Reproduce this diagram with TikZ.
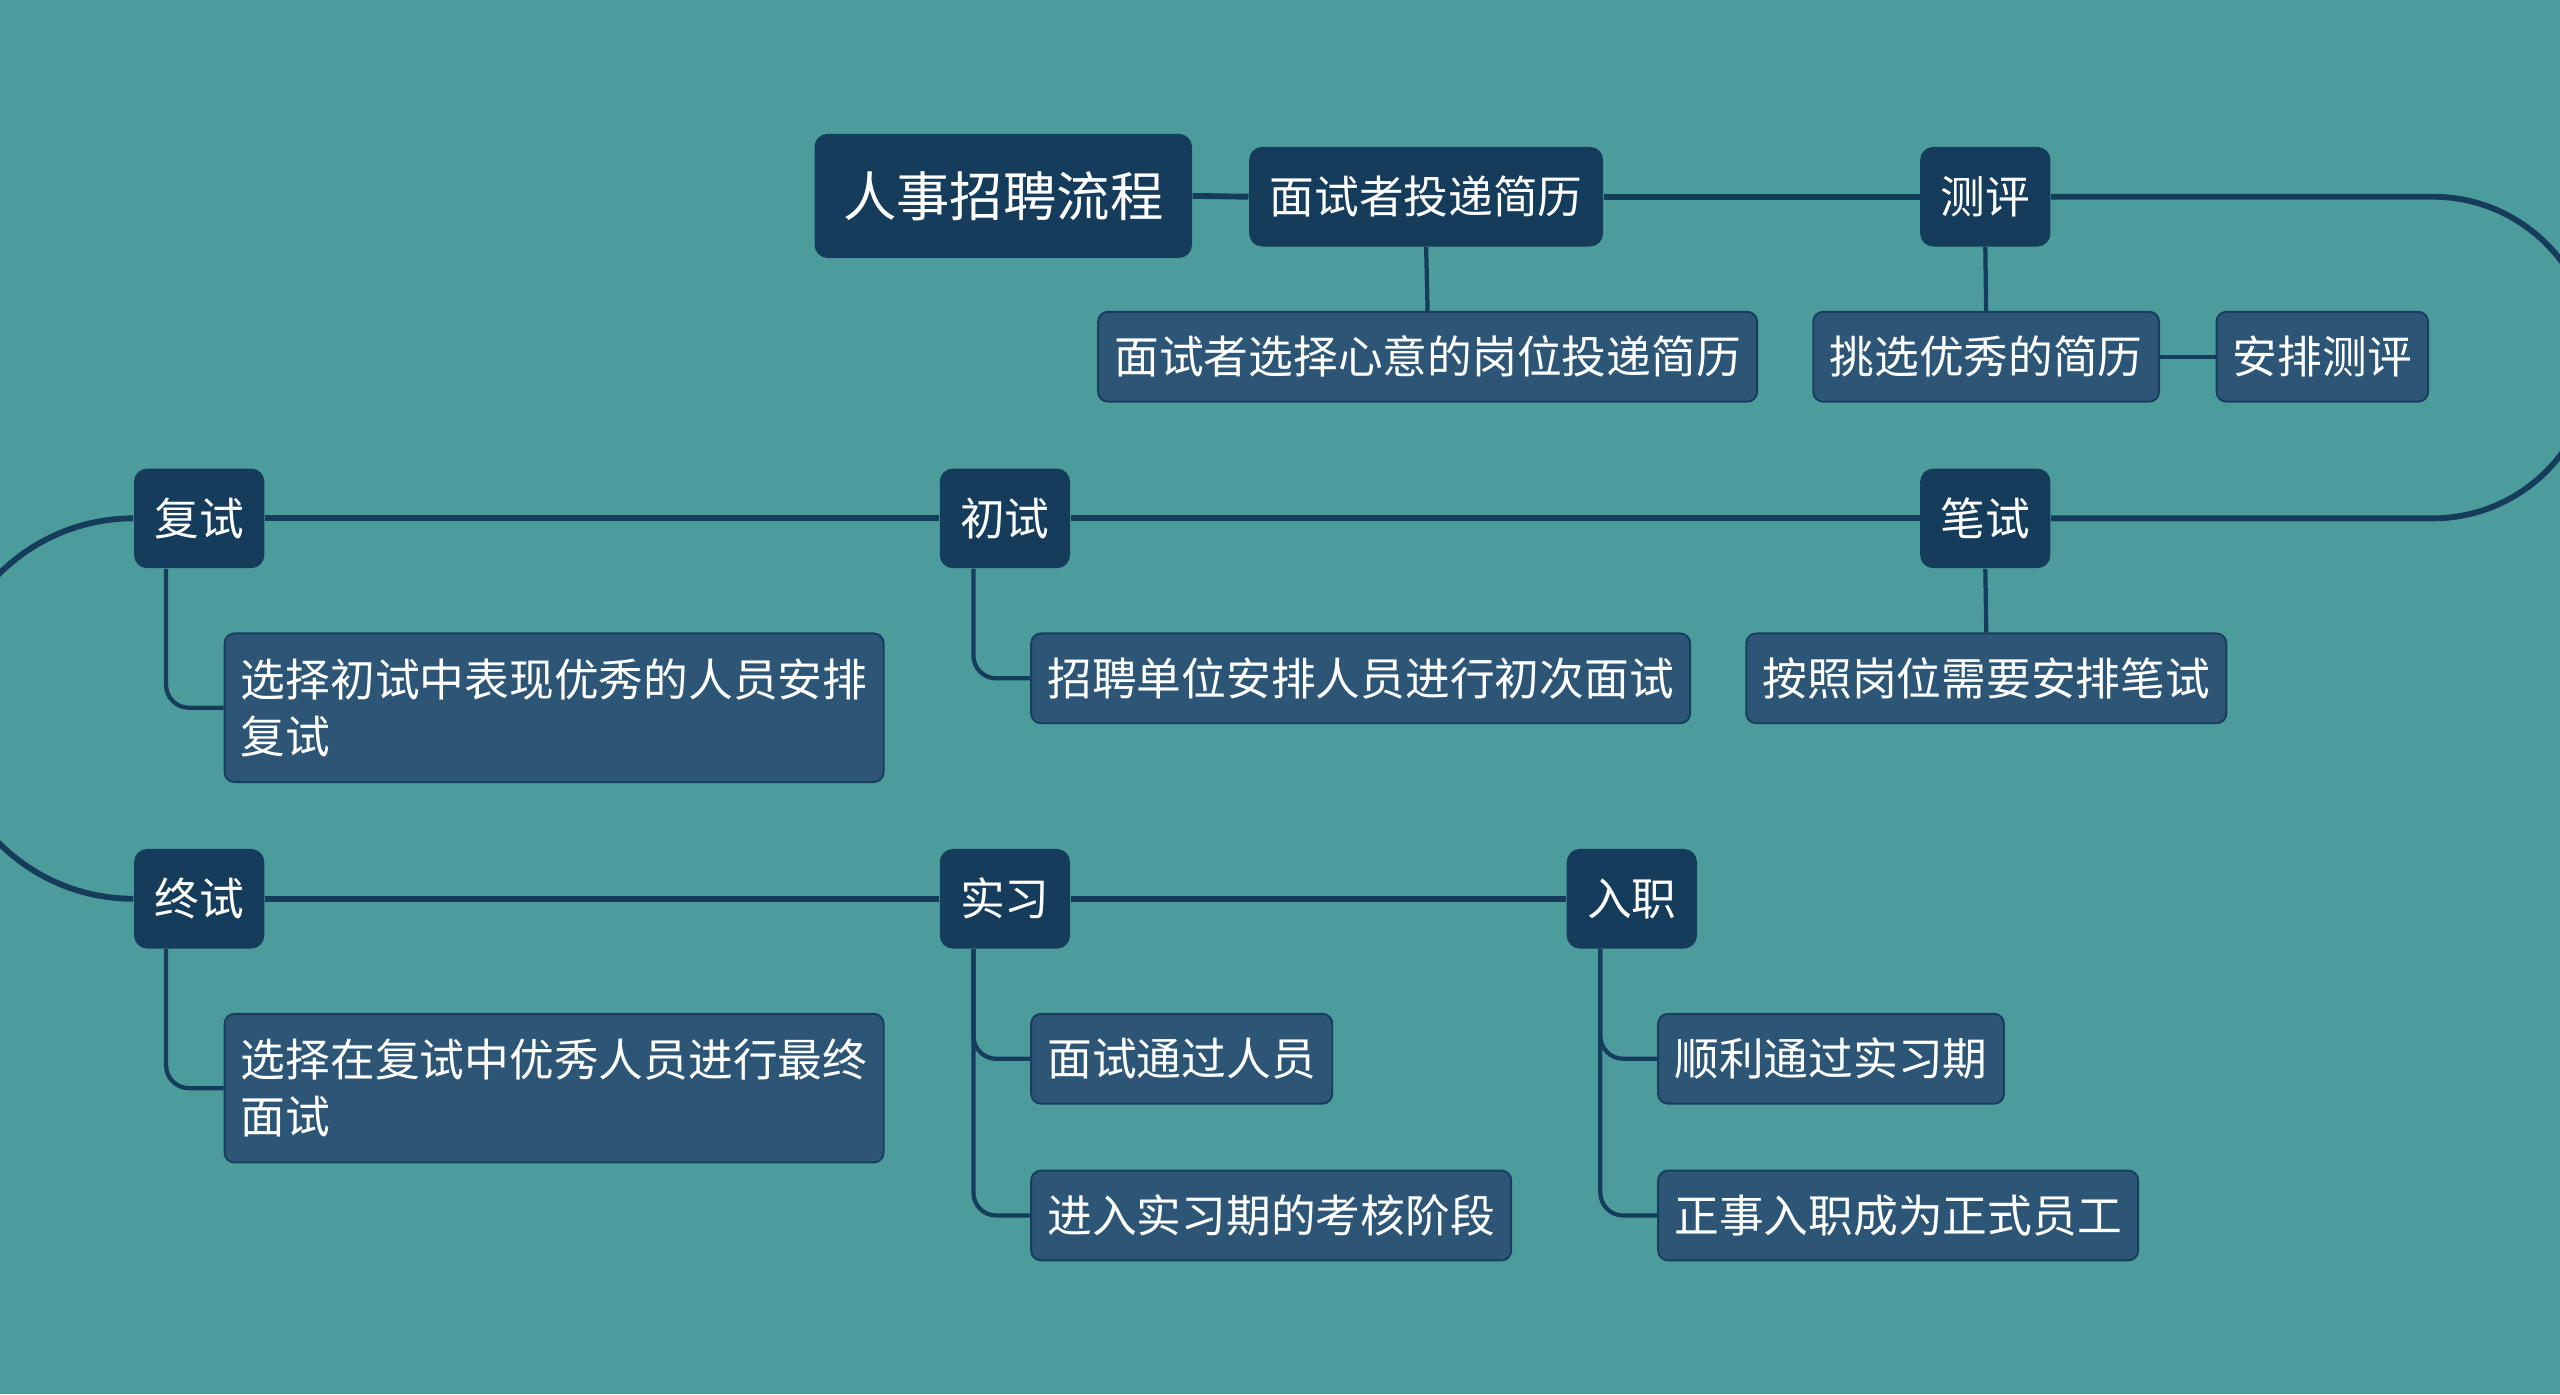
\documentclass[tikz,border=0pt]{standalone}
\usepackage{fontspec}
\usetikzlibrary{backgrounds}
\newfontfamily\cjk{Noto Sans CJK SC}
\definecolor{bgc}{HTML}{4D9C9C}
\definecolor{darkc}{HTML}{163C5B}
\definecolor{subc}{HTML}{2D5676}
\definecolor{subb}{HTML}{173E5E}
\begin{document}
\begin{tikzpicture}[x=0.5pt,y=-0.5pt,
  rootbox/.style={fill=darkc, rounded corners=4pt, text=white, inner xsep=8.75pt, inner ysep=0pt,
    minimum height=38pt, font=\cjk\fontsize{16.35}{19}\selectfont},
  mainbox/.style={fill=darkc, rounded corners=4pt, text=white, inner xsep=6.25pt, inner ysep=0pt,
    minimum height=30.5pt, font=\cjk\fontsize{13.7}{17.5}\selectfont},
  subbox/.style={fill=subc, draw=subb, line width=0.6pt, rounded corners=3pt, text=white,
    inner xsep=5pt, inner ysep=0pt, minimum height=27.5pt, anchor=west,
    font=\cjk\fontsize{13.7}{17.5}\selectfont},
  mainline/.style={draw=darkc, line width=1.8pt},
  subline/.style={draw=darkc, line width=1.3pt, rounded corners=7pt}]
\useasboundingbox (0,0) rectangle (1568,854);

% main nodes
\node[rootbox] (root) at (614.5,120) {人事招聘流程};
\node[mainbox] (tj) at (873.5,120.5) {面试者投递简历};
\node[mainbox] (cp) at (1216,120.5) {测评};
\node[mainbox] (bs) at (1216,317.5) {笔试};
\node[mainbox] (cs) at (615.5,317.5) {初试};
\node[mainbox] (fs) at (122,317.5) {复试};
\node[mainbox] (zs) at (122,550.5) {终试};
\node[mainbox] (sx) at (615.5,550.5) {实习};
\node[mainbox] (rz) at (999.5,550.5) {入职};

% sub nodes
\node[subbox] (c1) at (672,218.5) {面试者选择心意的岗位投递简历};
\node[subbox] (c2) at (1110,218.5) {挑选优秀的简历};
\node[subbox] (c3) at (1357,218.5) {安排测评};
\node[subbox] (c4) at (1069,415.5) {按照岗位需要安排笔试};
\node[subbox] (c5) at (631,415.5) {招聘单位安排人员进行初次面试};
\node[subbox, align=left, minimum height=45.5pt] (c6) at (137,433.5) {选择初试中表现优秀的人员安排\\复试};
\node[subbox, align=left, minimum height=45.5pt] (c7) at (137,666.5) {选择在复试中优秀人员进行最终\\面试};
\node[subbox] (c8) at (631,648.5) {面试通过人员};
\node[subbox] (c9) at (631,744.5) {进入实习期的考核阶段};
\node[subbox] (c10) at (1015,648.5) {顺利通过实习期};
\node[subbox] (c11) at (1015,744.5) {正事入职成为正式员工};

\begin{scope}[on background layer]
\fill[bgc] (0,0) rectangle (1568,854);
% main flow
\coordinate (rtop) at (1490,120.5);
\draw[mainline] (root.east) -- (tj.west);
\draw[mainline] (tj.east) -- (cp.west);
\draw[mainline] (cp.east) -- (rtop) arc[start angle=-90, end angle=90, radius=98.5] -- (bs.east);
\draw[mainline] (bs.west) -- (cs.east);
\draw[mainline] (cs.west) -- (fs.east);
\draw[mainline] (fs.west) arc[start angle=-90, end angle=-270, radius=116.5] -- (zs.west);
\draw[mainline] (zs.east) -- (sx.west);
\draw[mainline] (sx.east) -- (rz.west);

% sub connectors
\draw[subline] (tj.south) -- (c1.north);
\draw[subline] (cp.south) -- (c2.north);
\draw[subline] (c2.east) -- (c3.west);
\draw[subline] (bs.south) -- (c4.north);
\draw[subline] ([xshift=10.5pt]cs.south west) |- (c5.west);
\draw[subline] ([xshift=10pt]fs.south west) |- (c6.west);
\draw[subline] ([xshift=10pt]zs.south west) |- (c7.west);
\draw[subline] ([xshift=10.5pt]sx.south west) |- (c8.west);
\draw[subline] ([xshift=10.5pt]sx.south west) |- (c9.west);
\draw[subline] ([xshift=10.5pt]rz.south west) |- (c10.west);
\draw[subline] ([xshift=10.5pt]rz.south west) |- (c11.west);
\end{scope}
\end{tikzpicture}
\end{document}
